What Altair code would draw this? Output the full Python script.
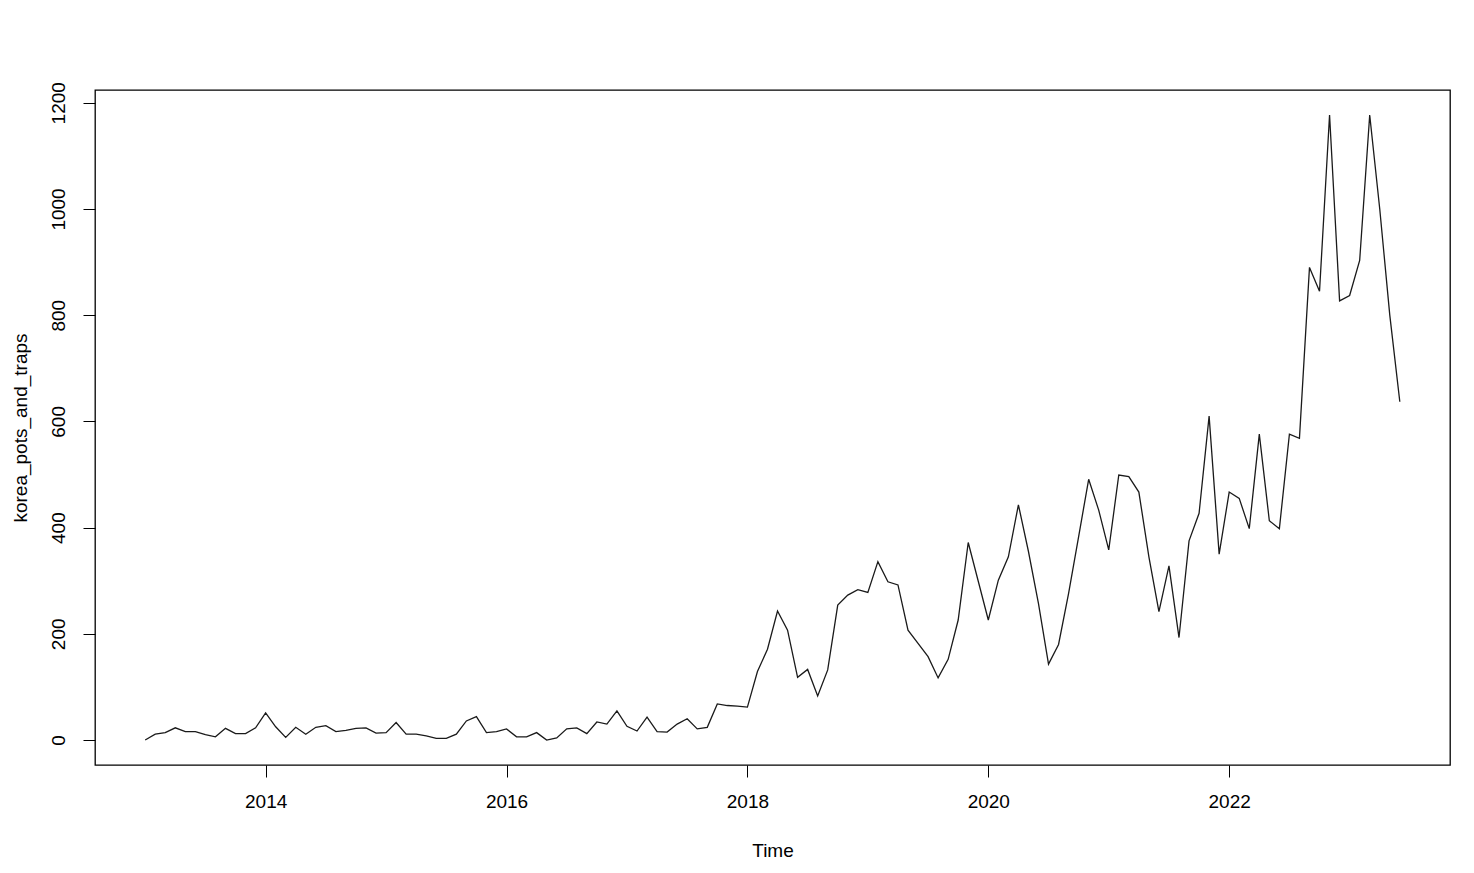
import altair as alt
import pandas as pd

start_year = 2013
values = [
    0, 11, 14, 23, 16, 16, 10, 6, 22, 12, 12, 23,
    51, 25, 5, 24, 11, 24, 27, 16, 18, 22, 23, 13,
    14, 33, 11, 11, 8, 3, 3, 11, 36, 44, 14, 16,
    21, 6, 6, 14, 0, 4, 21, 23, 12, 34, 30, 55,
    26, 17, 43, 16, 15, 30, 40, 21, 24, 68, 65, 64,
    62, 129, 171, 243, 207, 118, 133, 83, 132, 254, 273, 283,
    278, 336, 298, 292, 207, 182, 157, 117, 152, 226, 372, 299,
    226, 301, 345, 443, 355, 257, 143, 180, 276, 383, 491, 433,
    358, 499, 496, 467, 345, 242, 328, 193, 375, 427, 610, 350,
    467, 455, 398, 576, 413, 398, 576, 568, 890, 845, 1177, 827,
    837, 903, 1177, 1000, 800, 637,
]
x_ticks = [2014, 2016, 2018, 2020, 2022]
y_ticks = [0, 200, 400, 600, 800, 1000, 1200]

times = [start_year + i / 12 for i in range(len(values))]
df = pd.DataFrame({"Time": times, "korea_pots_and_traps": values})

FONT = "Liberation Sans"
FS = 19

chart = (
    alt.Chart(df)
    .mark_line(color="#1a1a1a", strokeWidth=1.3)
    .encode(
        x=alt.X(
            "Time:Q",
            scale=alt.Scale(domain=[2012.5833, 2023.8333], nice=False, zero=False),
            axis=alt.Axis(
                values=x_ticks, format="d", title="Time", domain=False, grid=False,
                tickSize=12, tickColor="black", tickWidth=1,
                labelFont=FONT, labelFontSize=FS, labelColor="black", labelPadding=15,
                titleFont=FONT, titleFontSize=FS, titleColor="black", titleFontWeight="normal",
                titlePadding=30,
            ),
        ),
        y=alt.Y(
            "korea_pots_and_traps:Q",
            scale=alt.Scale(domain=[-47, 1224], nice=False, zero=False),
            axis=alt.Axis(
                values=y_ticks, format="d", title="korea_pots_and_traps", domain=False, grid=False,
                tickSize=12, tickColor="black", tickWidth=1,
                labelFont=FONT, labelFontSize=FS, labelColor="black", labelPadding=15,
                labelAngle=270,
                titleFont=FONT, titleFontSize=FS, titleColor="black", titleFontWeight="normal",
                titlePadding=19,
            ),
        ),
    )
    .properties(
        width=1355,
        height=675,
        background="white",
        autosize=alt.AutoSizeParams(type="none"),
        padding={"left": 87, "top": 82, "right": 16, "bottom": 100},
    )
    .configure_view(stroke="black", strokeWidth=1.3)
)

chart.save("out.html", embed_options={"renderer": "svg", "actions": False})
